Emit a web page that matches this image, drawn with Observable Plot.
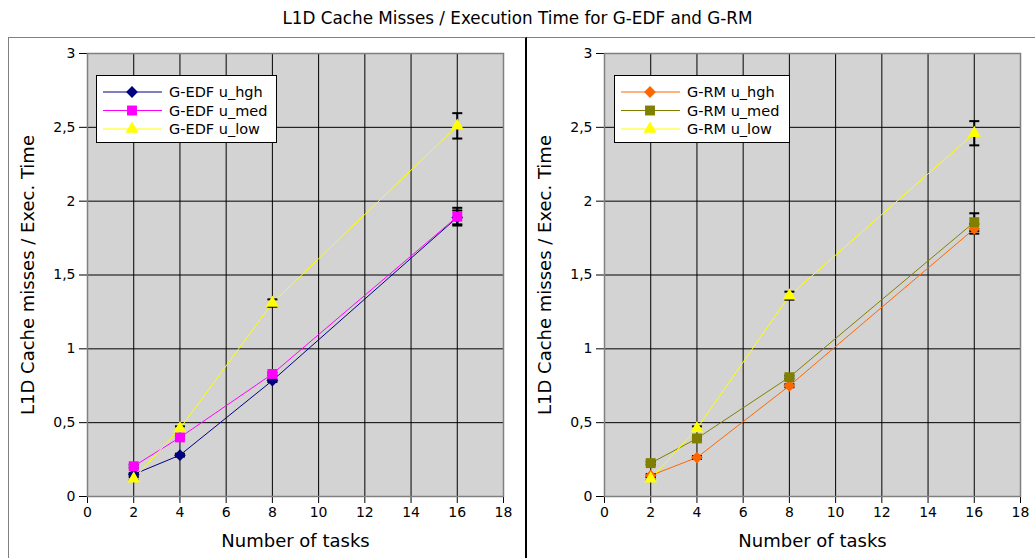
<!DOCTYPE html>
<html><head><meta charset="utf-8">
<script src="https://cdn.jsdelivr.net/npm/d3@7"></script>
<script src="https://cdn.jsdelivr.net/npm/@observablehq/plot@0.6"></script>
<style>
body{margin:0;background:#fff;font-family:"DejaVu Sans",sans-serif;overflow:hidden}
#root{position:relative;width:1035px;height:558px;overflow:hidden}
#title{position:absolute;left:0;top:0;width:1035px;text-align:center;font-size:16.8px;line-height:36px;color:#000}
.panel{position:absolute;top:37px;height:540px;border-top:1px solid #808080;overflow:hidden}
.legend{position:absolute;top:37px}
</style></head><body>
<div id="root">
<div id="title">L1D Cache Misses / Execution Time for G-EDF and G-RM</div>
<div class="panel" id="left" style="left:8px;width:516px;border-left:1px solid #808080;border-right:2px solid #000"></div>
<div class="panel" id="right" style="left:527px;width:520px"></div>
</div>
<script>
const tasks = [2, 4, 8, 16];
const xTicks = [0, 2, 4, 6, 8, 10, 12, 14, 16, 18];
const yTicks = [0, 0.5, 1, 1.5, 2, 2.5, 3];

const edfHgh = [0.15, 0.28, 0.785, 1.89];
const edfHghErr = [0.01, 0.01, 0.01, 0.047];
const edfMed = [0.205, 0.40, 0.83, 1.895];
const edfMedErr = [0.01, 0.01, 0.01, 0.06];
const edfLow = [0.12, 0.46, 1.31, 2.51];
const edfLowErr = [0.01, 0.015, 0.025, 0.086];

const rmHgh = [0.142, 0.264, 0.75, 1.813];
const rmHghErr = [0.01, 0.01, 0.01, 0.033];
const rmMed = [0.226, 0.393, 0.808, 1.858];
const rmMedErr = [0.01, 0.01, 0.01, 0.06];
const rmLow = [0.12, 0.46, 1.36, 2.46];
const rmLowErr = [0.01, 0.015, 0.027, 0.082];

const edfNames = ["G-EDF u_hgh", "G-EDF u_med", "G-EDF u_low"];
const rmNames = ["G-RM u_hgh", "G-RM u_med", "G-RM u_low"];
const edfColors = ["#000080", "#ff00ff", "#ffff00"];
const rmColors = ["#ff6600", "#808000", "#ffff00"];
const symbols = ["diamond2", "square", "triangle"];
const symR = [5.3, 5.6, 4.8];

const capSymbol = {draw(ctx) { ctx.moveTo(-5, 0); ctx.lineTo(5, 0); }};
const fmt = d => String(d).replace(".", ",");

function makePanel(el, names, colors, values, errs, o) {
  const series = names.map((n, k) => ({name: n, color: colors[k], symbol: symbols[k], r: symR[k],
    rows: tasks.map((t, i) => ({x: t, y: values[k][i], lo: values[k][i] - errs[k][i], hi: values[k][i] + errs[k][i]}))}));
  const all = series.flatMap(s => s.rows);
  const marks = [
    Plot.frame({fill: "#d3d3d3"}),
    Plot.gridX(xTicks, {stroke: "#000", strokeOpacity: 1, strokeWidth: 1}),
    Plot.gridY(yTicks, {stroke: "#000", strokeOpacity: 1, strokeWidth: 1}),
    Plot.frame({stroke: "#808080", strokeWidth: 1.5})
  ];
  for (const s of series) marks.push(Plot.line(s.rows, {x: "x", y: "y", stroke: s.color, strokeWidth: 1}));
  marks.push(Plot.ruleX(all, {x: "x", y1: "lo", y2: "hi", stroke: "#000", strokeWidth: 2}));
  marks.push(Plot.dot(all, {x: "x", y: "lo", symbol: capSymbol, stroke: "#000", fill: "none", strokeWidth: 2}));
  marks.push(Plot.dot(all, {x: "x", y: "hi", symbol: capSymbol, stroke: "#000", fill: "none", strokeWidth: 2}));
  for (const s of series) marks.push(Plot.dot(s.rows, {x: "x", y: "y", symbol: s.symbol, r: s.r, fill: s.color, stroke: "none"}));
  const chart = Plot.plot({
    width: o.width, height: 520, marginLeft: o.ml, marginRight: o.mr, marginTop: 15, marginBottom: 62,
    style: {fontFamily: "DejaVu Sans, sans-serif", fontSize: "14px", background: "transparent", color: "#000"},
    x: {domain: [0, 18], ticks: xTicks, label: "Number of tasks", labelAnchor: "center", labelArrow: "none", labelOffset: 50, tickSize: 7, tickPadding: 4},
    y: {domain: [0, 3], ticks: yTicks, tickFormat: fmt, label: "L1D Cache misses / Exec. Time", labelAnchor: "center", labelArrow: "none", labelOffset: 66, tickSize: 8, tickPadding: 4},
    marks
  });
  d3.select(chart).selectAll('[aria-label="x-axis label"] text, [aria-label="y-axis label"] text').attr("font-size", 18);
  el.appendChild(chart);

  // legend
  const lg = d3.select(el).append("svg").attr("class", "legend")
    .style("left", o.legLeft + "px").attr("width", o.legW).attr("height", 68);
  lg.append("rect").attr("x", 0.5).attr("y", 0.5).attr("width", o.legW - 1).attr("height", 67)
    .attr("fill", "#fff").attr("stroke", "#000");
  series.forEach((s, k) => {
    const cy = 17 + k * 18.5;
    lg.append("line").attr("x1", 7).attr("x2", 66).attr("y1", cy).attr("y2", cy).attr("stroke", s.color);
    const sym = {diamond2: d3.symbolDiamond2, square: d3.symbolSquare, triangle: d3.symbolTriangle}[s.symbol];
    lg.append("path").attr("d", d3.symbol(sym, s.r * s.r * Math.PI)()).attr("transform", `translate(36,${cy})`).attr("fill", s.color);
    lg.append("text").attr("x", 73).attr("y", cy).attr("dy", "0.36em").attr("font-size", 14.5)
      .attr("font-family", "DejaVu Sans, sans-serif").text(s.name);
  });
}

makePanel(document.getElementById("left"), edfNames, edfColors, [edfHgh, edfMed, edfLow], [edfHghErr, edfMedErr, edfLowErr],
  {width: 516, ml: 78, mr: 22, legLeft: 87, legW: 181});
makePanel(document.getElementById("right"), rmNames, rmColors, [rmHgh, rmMed, rmLow], [rmHghErr, rmMedErr, rmLowErr],
  {width: 520, ml: 77, mr: 27, legLeft: 87, legW: 176});
</script>
</body></html>
